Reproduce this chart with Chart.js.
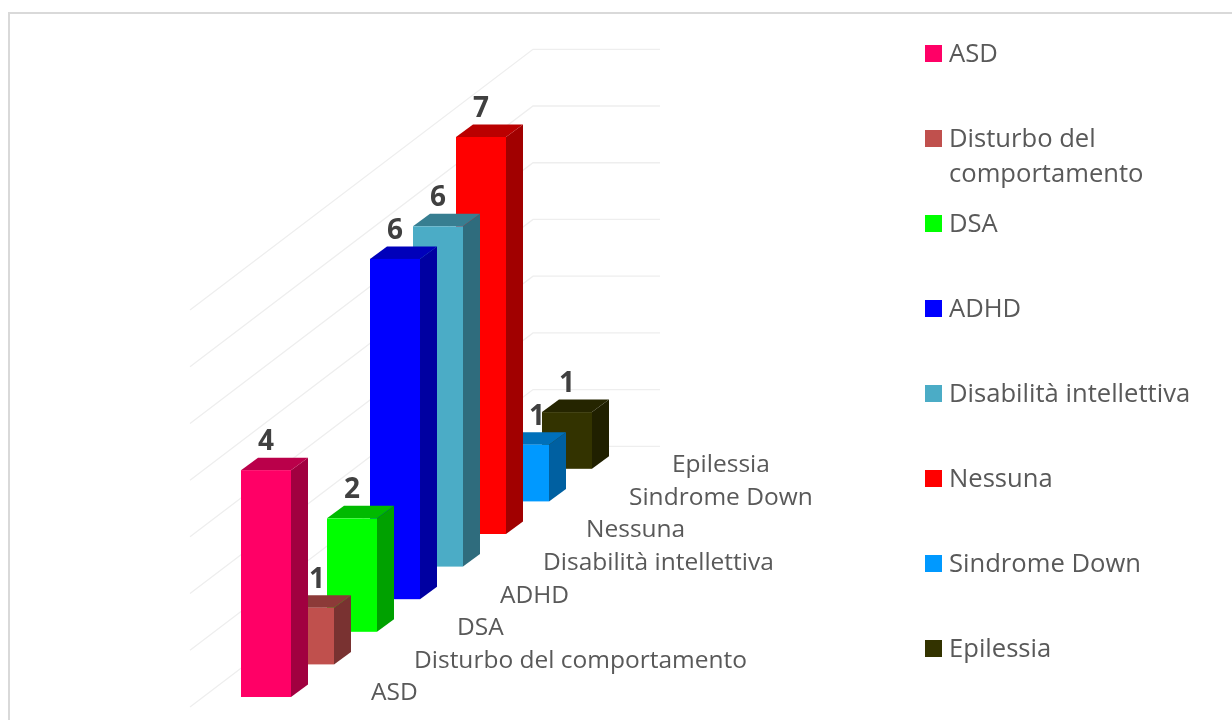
<!DOCTYPE html>
<html>
<head>
<meta charset="utf-8">
<title>Diagnosi</title>
<script src="https://cdn.jsdelivr.net/npm/chart.js@4"></script>
<style>
  html, body { margin: 0; padding: 0; background: #fff; overflow: hidden; }
  canvas { display: block; }
</style>
</head>
<body>
<canvas id="chart" width="1232" height="720"></canvas>
<script>
// Data
const categories = ['ASD', 'Disturbo del comportamento', 'DSA', 'ADHD', 'Disabilità intellettiva', 'Nessuna', 'Sindrome Down', 'Epilessia'];
const values = [4, 1, 2, 6, 6, 7, 1, 1];
const colors = ['#FF0066', '#C0504D', '#00FF00', '#0000FF', '#4BACC6', '#FF0000', '#0099FF', '#333300'];
const legendLines = [['ASD'], ['Disturbo del', 'comportamento'], ['DSA'], ['ADHD'], ['Disabilità intellettiva'], ['Nessuna'], ['Sindrome Down'], ['Epilessia']];

// Fake 3D projection
const liftPerBar = 32.6;   // each bar sits this much higher than the one before
const depthX = 17;
const depthY = 12.5;
const labelNudge = [0, 8, 0, 0, 0, 0, 13, 0]; // hand moved labels, as in the original

const axisFont = '24.5px "Open Sans"';
const legendFont = '25.6px "Open Sans"';
const valueFont = 'bold 28px "Open Sans"';

// Darken a hex colour by a factor
function shade(hex, f) {
    const n = parseInt(hex.slice(1), 16);
    const r = Math.round((n >> 16 & 255) * f);
    const g = Math.round((n >> 8 & 255) * f);
    const b = Math.round((n & 255) * f);
    return `rgb(${r},${g},${b})`;
}

function poly(ctx, pts, fill) {
    ctx.fillStyle = fill;
    ctx.beginPath();
    pts.forEach((p, i) => i ? ctx.lineTo(p[0], p[1]) : ctx.moveTo(p[0], p[1]));
    ctx.closePath();
    ctx.fill();
}

const bars3d = {
    id: 'bars3d',
    beforeDraw(chart) {
        const ctx = chart.ctx;
        // outer frame, runs off the window on the right and bottom
        ctx.fillStyle = '#d9d9d9';
        ctx.fillRect(8, 12, 1224, 2);
        ctx.fillRect(8, 12, 2, 708);
    },
    // Replaces the normal flat bars, back to front so the nearer ones cover the others
    beforeDatasetsDraw(chart) {
        const ctx = chart.ctx;
        const yScale = chart.scales.y;
        const x0 = chart.scales.x.getPixelForValue(0);

        // walls
        ctx.save();
        ctx.strokeStyle = '#eeeeee';
        ctx.lineWidth = 1.3;
        yScale.ticks.forEach(t => {
            const y = yScale.getPixelForValue(t.value);
            ctx.beginPath();
            ctx.moveTo(x0 - 76, y + 10);
            ctx.lineTo(x0 + 267, y - 250.7);
            ctx.lineTo(x0 + 394, y - 250.7);
            ctx.stroke();
        });
        ctx.restore();

        const els = chart.getDatasetMeta(0).data;
        for (let i = els.length - 1; i >= 0; i--) {
            const el = els[i];
            const lift = liftPerBar * i;
            const l = el.x - el.width / 2;
            const r = el.x + el.width / 2;
            const top = el.y - lift;
            const bottom = el.base - lift;
            poly(ctx, [[r, top], [r + depthX, top - depthY], [r + depthX, bottom - depthY], [r, bottom]], shade(colors[i], 0.63));
            poly(ctx, [[l, top], [l + depthX, top - depthY], [r + depthX, top - depthY], [r, top]], shade(colors[i], 0.73));
            ctx.fillStyle = colors[i];
            ctx.fillRect(l, top, r - l, bottom - top);
        }

        // value labels go over every bar
        ctx.textAlign = 'center';
        ctx.textBaseline = 'middle';
        ctx.font = valueFont;
        ctx.fillStyle = '#404040';
        els.forEach((el, i) => {
            ctx.fillText(values[i], el.x + labelNudge[i], el.y - liftPerBar * i - 28);
        });

        // category labels along the floor
        ctx.textAlign = 'left';
        ctx.font = axisFont;
        ctx.fillStyle = '#595959';
        els.forEach((el, i) => {
            ctx.fillText(categories[i], el.x + 105, el.base - liftPerBar * i - 3.5);
        });

        // legend
        ctx.font = legendFont;
        colors.forEach((c, i) => {
            const y = 53.5 + 85 * i;
            ctx.fillStyle = c;
            ctx.fillRect(925, y - 8.5, 17, 17);
            ctx.fillStyle = '#595959';
            legendLines[i].forEach((line, k) => ctx.fillText(line, 949, y + 1 + k * 35));
        });
        return false;
    }
};

new Chart(document.getElementById('chart'), {
    type: 'bar',
    data: {
        labels: categories,
        datasets: [{ data: values, backgroundColor: colors, barThickness: 50 }]
    },
    options: {
        responsive: false,
        animation: false,
        layout: { padding: { left: 244.5, right: 643.5, top: 300, bottom: 23 } },
        plugins: { legend: { display: false }, tooltip: { enabled: false } },
        scales: {
            x: { display: false },
            y: { display: false, min: 0, max: 7, ticks: { stepSize: 1 } }
        }
    },
    plugins: [bars3d]
});
</script>
</body>
</html>
